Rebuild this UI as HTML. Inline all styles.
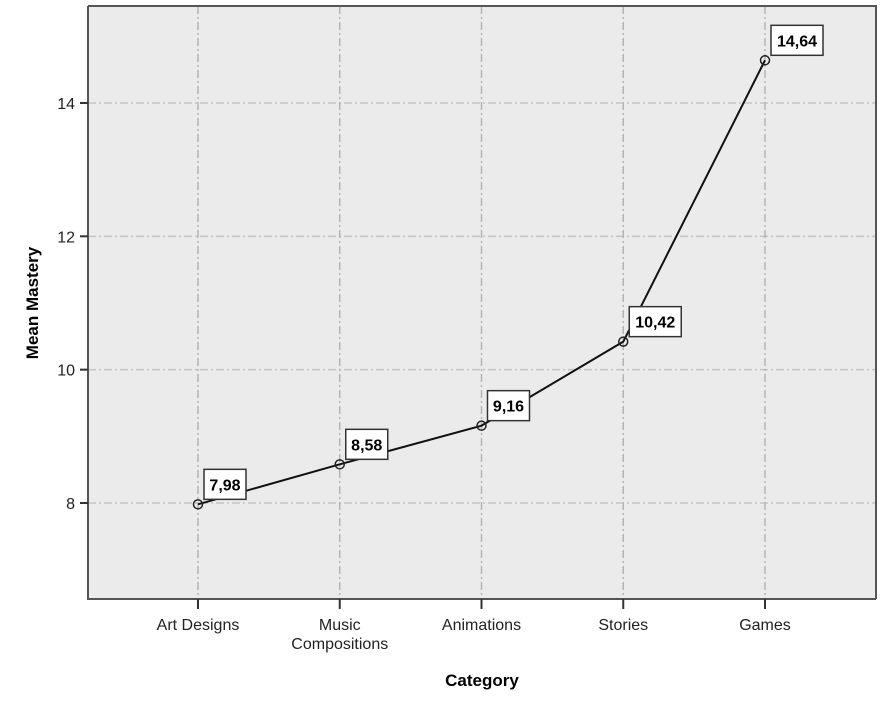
<!DOCTYPE html>
<html><head><meta charset="utf-8"><style>
body{margin:0;background:#fff;}
svg{display:block;font-family:"Liberation Sans",Arial,sans-serif;}
</style></head><body>
<svg id="chart" width="886" height="710" viewBox="0 0 886 710" xmlns="http://www.w3.org/2000/svg">
<rect x="88" y="6" width="788" height="593" fill="#ebebeb"/>
<g id="grid"></g>
<g id="series"></g>
<g id="labels"></g>
<path d="M88,6 H876 V599 M88,6 V599 H876" fill="none" stroke="#555" stroke-width="2"/>
<g id="axes"></g>
<text x="482" y="686" text-anchor="middle" font-size="17" font-weight="bold">Category</text>
<text transform="translate(38,303) rotate(-90)" text-anchor="middle" font-size="17" font-weight="bold">Mean Mastery</text>
</svg>
<script>
const categories=[["Art Designs"],["Music","Compositions"],["Animations"],["Stories"],["Games"]];
const values=[7.98,8.58,9.16,10.42,14.64];
const valueLabels=["7,98","8,58","9,16","10,42","14,64"];
const yTicks=[8,10,12,14];
const NS="http://www.w3.org/2000/svg";
function x(i){return 198+i*141.75;}
function y(v){return 503-(v-8)*66.67;}
function mk(t,a,p){const e=document.createElementNS(NS,t);for(const k in a)e.setAttribute(k,a[k]);p.appendChild(e);return e;}
const grid=document.getElementById('grid'),axes=document.getElementById('axes'),ser=document.getElementById('series'),lab=document.getElementById('labels');
yTicks.forEach(t=>{
 const g=mk('line',{x1:88,x2:876,y1:y(t),y2:y(t),stroke:'#c4c4c4','stroke-width':1.5,'stroke-dasharray':'8,3,2,3'},grid);
 
 
 const tk=mk('line',{x1:80,x2:88,y1:y(t),y2:y(t),stroke:'#333','stroke-width':2},axes);
 
 
 const tx=mk('text',{x:75,y:y(t)+6,'text-anchor':'end','font-size':16,fill:'#222'},axes);
 tx.textContent=t;
 
 
});
categories.forEach((c,i)=>{
 const g=mk('line',{x1:x(i),x2:x(i),y1:6,y2:599,stroke:'#b4b4b4','stroke-width':1.5,'stroke-dasharray':'8,3,2,3'},grid);
 
 
 const tk=mk('line',{x1:x(i),x2:x(i),y1:599,y2:609,stroke:'#333','stroke-width':2},axes);
 
 
 c.forEach((ln,j)=>{
  const tx=mk('text',{x:x(i),y:630+j*19,'text-anchor':'middle','font-size':16,fill:'#222'},axes);
  tx.textContent=ln;
  
  
 });
});
const pl=mk('polyline',{points:values.map((v,i)=>x(i)+','+y(v)).join(' '),fill:'none',stroke:'#111','stroke-width':2},ser);


values.forEach((v,i)=>{
 const c=mk('circle',{cx:x(i),cy:y(v),r:4.5,fill:'none',stroke:'#222','stroke-width':1.5},ser);
 
 
 const w=valueLabels[i].length>4?52:42;
 const r=mk('rect',{x:x(i)+6,y:y(v)-35,width:w,height:30,fill:'#fff',stroke:'#333','stroke-width':1.5},lab);
 
 
 const t=mk('text',{x:x(i)+6+w/2,y:y(v)-14,'text-anchor':'middle','font-size':16,'font-weight':'bold',fill:'#000'},lab);
 t.textContent=valueLabels[i];
 
 
});
</script>
</body></html>
